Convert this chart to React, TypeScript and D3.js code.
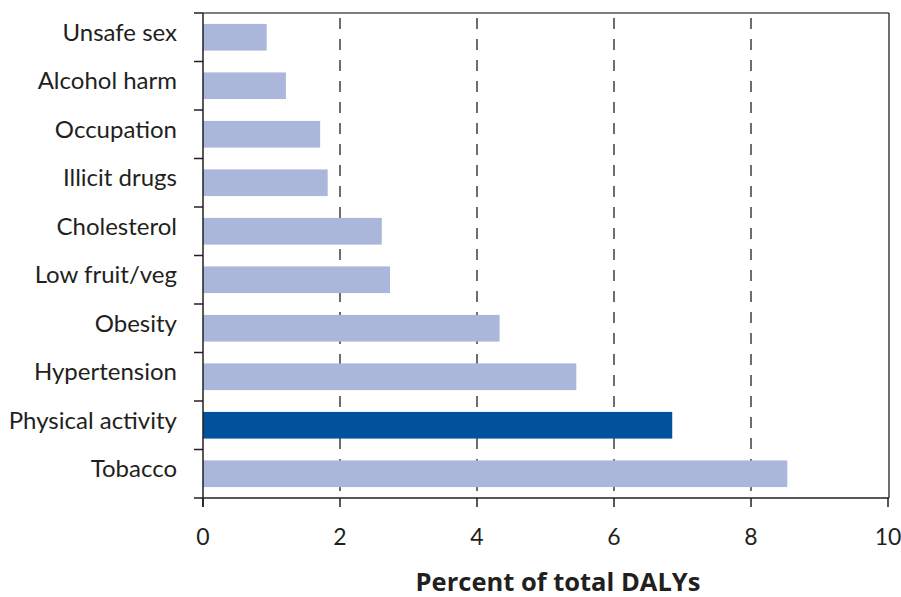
import React from "react";
import * as d3 from "d3";

const categories = ["Unsafe sex", "Alcohol harm", "Occupation", "Illicit drugs", "Cholesterol", "Low fruit/veg", "Obesity", "Hypertension", "Physical activity", "Tobacco"];
const values = [0.93, 1.21, 1.71, 1.82, 2.61, 2.73, 4.33, 5.45, 6.85, 8.53];
const highlighted = ["Physical activity"];
const xTicks = [0, 2, 4, 6, 8, 10];
const gridTicks = [2, 4, 6, 8];
const xTitle = "Percent of total DALYs";

export default function App() {
  const W = 901, H = 597;
  const left = 203, right = 888, top = 13, bottom = 498;
  const x = d3.scaleLinear().domain([0, 10]).range([left, right]);
  const y = d3.scaleBand().domain(categories).range([top, bottom]).paddingInner(0.45).paddingOuter(0.225);
  const yb = d3.scaleBand().domain(categories).range([top, bottom]);
  const font = "Lato, 'Open Sans', sans-serif";
  const ink = "#231f20";
  return (
    <svg width={W} height={H} style={{ position: "absolute", left: 0, top: 0 }}>
      <rect x={0} y={0} width={W} height={H} fill="#fff" />
      {gridTicks.map(t => (
        <line key={t} x1={x(t)} x2={x(t)} y1={top + 5} y2={bottom} stroke={ink} strokeWidth={1.3} strokeDasharray="11,10" />
      ))}
      {categories.map((c, i) => (
        <rect key={c} x={x(0)} y={y(c)!} width={x(values[i]) - x(0)} height={y.bandwidth()}
          fill={highlighted.includes(c) ? "#00529c" : "#aab7db"} />
      ))}
      {/* frame */}
      <line x1={left} x2={right + 1} y1={top} y2={top} stroke="#555" strokeWidth={1.5} />
      <line x1={right + 1} x2={right + 1} y1={top} y2={bottom} stroke={ink} strokeWidth={1.3} />
      <line x1={left} x2={left} y1={top} y2={bottom + 9} stroke={ink} strokeWidth={1.5} />
      <line x1={left - 9} x2={right + 1} y1={bottom} y2={bottom} stroke={ink} strokeWidth={1.5} />
      {categories.map(c => (
        <line key={"t" + c} x1={left - 9} x2={left} y1={yb(c)!} y2={yb(c)!} stroke={ink} strokeWidth={1.5} />
      ))}
      {xTicks.map(t => (
        <g key={"x" + t}>
          <line x1={x(t)} x2={x(t)} y1={bottom} y2={bottom + 9} stroke={ink} strokeWidth={1.5} />
          <text x={x(t)} y={545} textAnchor="middle" fontFamily={font} fontSize={23} fill={ink}>{t}</text>
        </g>
      ))}
      {categories.map(c => (
        <text key={"l" + c} x={177} y={yb(c)! + yb.bandwidth() / 2 + 3.5} textAnchor="end" fontFamily={font} fontSize={24} fill={ink}>{c}</text>
      ))}
      <text x={558} y={591} textAnchor="middle" fontFamily="'Open Sans', Lato, sans-serif" fontSize={25.5} fontWeight="bold" fill={ink}>{xTitle}</text>
    </svg>
  );
}
